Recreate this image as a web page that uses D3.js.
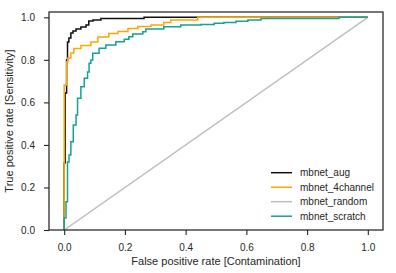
<!DOCTYPE html>
<html>
<head>
<meta charset="utf-8">
<script src="https://cdn.jsdelivr.net/npm/d3@7"></script>
<style>
  body { margin: 0; background: #fff; }
  svg text { font-family: "Liberation Sans", Arial, sans-serif; fill: #262626; }
</style>
</head>
<body>
<svg id="chart" width="396" height="273"></svg>
<script>
// ROC curves (points for a step-before staircase)
const augFpr = [0, 0.003, 0.008, 0.011, 0.0155, 0.022, 0.029, 0.039, 0.055, 0.072, 0.081, 0.095, 0.121, 0.263, 1.0];
const augTpr = [0, 0.315, 0.644, 0.799, 0.884, 0.903, 0.926, 0.936, 0.945, 0.954, 0.964, 0.983, 0.987, 0.995, 1.0];

const chanFpr = [0, 0.008, 0.012, 0.022, 0.032, 0.055, 0.088, 0.111, 0.147, 0.177, 0.210, 0.243, 0.286, 0.328, 0.351, 0.44, 1.0];
const chanTpr = [0, 0.682, 0.791, 0.809, 0.832, 0.853, 0.867, 0.884, 0.907, 0.924, 0.933, 0.947, 0.957, 0.964, 0.976, 0.987, 1.0];

const randFpr = [0, 1];
const randTpr = [0, 1];

const scrFpr = [0, 0.006, 0.011, 0.016, 0.022, 0.030, 0.039, 0.044, 0.055, 0.066, 0.077, 0.082, 0.088, 0.094, 0.115, 0.137,
  0.170, 0.198, 0.213, 0.226, 0.259, 0.269, 0.328, 0.384, 0.450, 0.494, 0.526, 0.566, 0.605, 0.648, 0.905, 1.0];
const scrTpr = [0, 0.056, 0.133, 0.320, 0.353, 0.415, 0.494, 0.541, 0.619, 0.674, 0.713, 0.743, 0.784, 0.799, 0.831, 0.854,
  0.870, 0.885, 0.897, 0.909, 0.921, 0.932, 0.945, 0.956, 0.964, 0.966, 0.972, 0.976, 0.981, 0.987, 0.995, 1.0];

const seriesNames = ['mbnet_aug', 'mbnet_4channel', 'mbnet_random', 'mbnet_scratch'];
const seriesColors = ['#111111', '#ffa500', '#bfbfbf', '#17a096'];
const xTicks = [0, 0.2, 0.4, 0.6, 0.8, 1.0];
const yTicks = [0, 0.2, 0.4, 0.6, 0.8, 1.0];

const series = [
  { name: seriesNames[0], color: seriesColors[0], fpr: augFpr, tpr: augTpr, step: true },
  { name: seriesNames[1], color: seriesColors[1], fpr: chanFpr, tpr: chanTpr, step: true },
  { name: seriesNames[2], color: seriesColors[2], fpr: randFpr, tpr: randTpr, step: false },
  { name: seriesNames[3], color: seriesColors[3], fpr: scrFpr, tpr: scrTpr, step: true }
];

const axLeft = 49, axRight = 383, axTop = 12, axBottom = 230;

const svg = d3.select('#chart');

const x = d3.scaleLinear([-0.05, 1.05], [axLeft, axRight]);
const y = d3.scaleLinear([0, 1.025], [axBottom, axTop]);

// clip to the axes box
svg.append('clipPath').attr('id', 'clip')
  .append('rect').attr('x', axLeft).attr('y', axTop).attr('width', axRight - axLeft).attr('height', axBottom - axTop);

const lines = svg.append('g').attr('clip-path', 'url(#clip)');

series.forEach(s => {
  const pts = s.fpr.map((f, i) => [f, s.tpr[i]]);
  const line = d3.line()
    .x(d => x(d[0]))
    .y(d => y(d[1]))
    .curve(s.step ? d3.curveStepBefore : d3.curveLinear);
  lines.append('path')
    .attr('d', line(pts))
    .attr('fill', 'none')
    .attr('stroke', s.color)
    .attr('stroke-width', 1.5);
});

// axes
const xAxis = svg.append('g')
  .attr('transform', 'translate(0,' + axBottom + ')')
  .call(d3.axisBottom(x).tickValues(xTicks).tickFormat(d3.format('.1f')).tickSize(5).tickPadding(9));
const yAxis = svg.append('g')
  .attr('transform', 'translate(' + axLeft + ',0)')
  .call(d3.axisLeft(y).tickValues(yTicks).tickFormat(d3.format('.1f')).tickSize(5).tickPadding(9));

[xAxis, yAxis].forEach(a => {
  a.select('.domain').remove();
  a.selectAll('line').attr('stroke', '#262626').attr('stroke-width', 1.1);
  a.selectAll('text').style('font-size', '10px').attr('fill', '#262626');
});

// frame
svg.append('rect')
  .attr('x', axLeft).attr('y', axTop)
  .attr('width', axRight - axLeft).attr('height', axBottom - axTop)
  .attr('fill', 'none').attr('stroke', '#262626').attr('stroke-width', 1.25);

// axis labels
svg.append('text')
  .attr('x', (axLeft + axRight) / 2).attr('y', 265)
  .attr('text-anchor', 'middle')
  .style('font-size', '11px')
  .text('False positive rate [Contamination]');

svg.append('text')
  .attr('transform', 'translate(13,' + ((axTop + axBottom) / 2) + ') rotate(-90)')
  .attr('text-anchor', 'middle')
  .style('font-size', '11px')
  .text('True positive rate [Sensitivity]');

// legend
const legend = svg.append('g');
series.forEach((s, i) => {
  const ly = 172.7 + i * 14.5;
  legend.append('line')
    .attr('x1', 271).attr('x2', 292).attr('y1', ly).attr('y2', ly)
    .attr('stroke', s.color).attr('stroke-width', 1.5);
  legend.append('text')
    .attr('x', 300).attr('y', ly + 3.5)
    .style('font-size', '10px')
    .text(s.name);
});
</script>
</body>
</html>
